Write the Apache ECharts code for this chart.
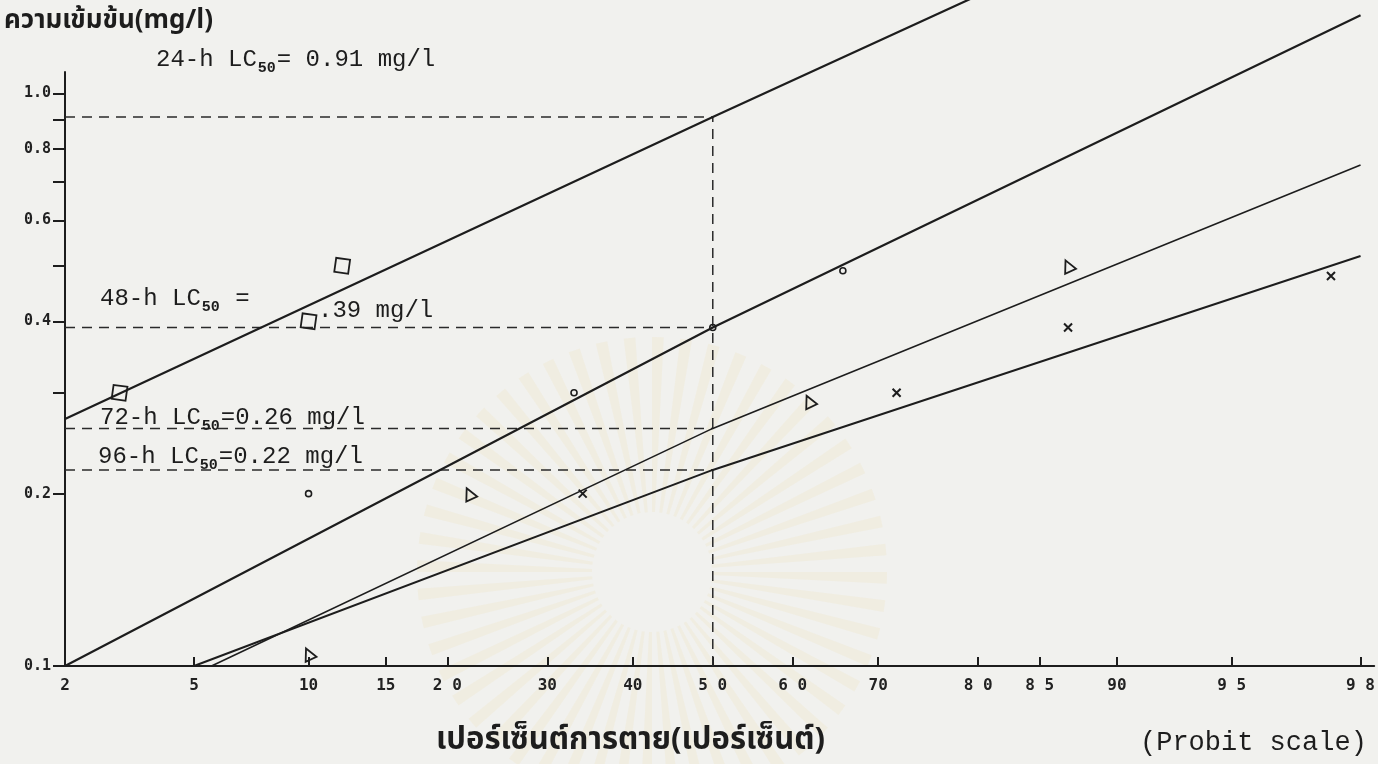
<!DOCTYPE html>
<html>
<head>
<meta charset="utf-8">
<script src="https://cdn.jsdelivr.net/npm/echarts@6/dist/echarts.min.js"></script>
<style>
  html, body { margin: 0; padding: 0; background: #f1f1ee; }
  #chart { width: 1378px; height: 764px; }
</style>
</head>
<body>
<div id="chart"></div>
<script>
// Probit (mortality %) axis ticks and their printed labels
const xTickPct = [2, 5, 10, 15, 20, 30, 40, 50, 60, 70, 80, 85, 90, 95, 98];
const xTickText = ['2', '5', '10', '15', '2 0', '30', '40', '5 0', '6 0', '70', '8 0', '8 5', '90', '9 5', '9 8'];
const xRangePct = [2, 98.2];

// Concentration axis (log scale) ticks and labels
const yTicks = [0.1, 0.2, 0.3, 0.4, 0.5, 0.6, 0.7, 0.8, 0.9, 1.0];
const yLabelValues = [0.1, 0.2, 0.4, 0.6, 0.8, 1.0];
const yRange = [0.1, 1.09];

// LC50 (mg/l) for each exposure time
const hours = ['24-h', '48-h', '72-h', '96-h'];
const lc50 = [0.91, 0.39, 0.26, 0.22];

// Fitted probit lines: [mortality %, concentration mg/l]
const line24 = [[2, 0.27], [50, 0.91], [98, 3.0]];
const line48 = [[2, 0.1], [50, 0.39], [98, 1.37]];
const line72 = [[5.6, 0.1], [50, 0.26], [98, 0.75]];
const line96 = [[5, 0.1], [50, 0.22], [98, 0.52]];

// Observed responses: [mortality %, concentration mg/l]
const obs24 = [[3, 0.30], [10, 0.40], [12, 0.50]];
const obs48 = [[10, 0.20], [33, 0.30], [50, 0.39], [66, 0.49]];
const obs72 = [[10, 0.105], [22, 0.20], [62, 0.29], [87, 0.50]];
const obs96 = [[34, 0.20], [72, 0.30], [87, 0.39], [97.5, 0.48]];

// Inverse standard normal CDF (Acklam), percent -> probit units
function probit(pct) {
  const p = pct / 100;
  const a = [-3.969683028665376e+01, 2.209460984245205e+02, -2.759285104469687e+02, 1.383577518672690e+02, -3.066479806614716e+01, 2.506628277459239e+00];
  const b = [-5.447609879822406e+01, 1.615858368580409e+02, -1.556989798598866e+02, 6.680131188771972e+01, -1.328068155288572e+01];
  const c = [-7.784894002430293e-03, -3.223964580411365e-01, -2.400758277161838e+00, -2.549732539343734e+00, 4.374664141464968e+00, 2.938163982698783e+00];
  const d = [7.784695709041462e-03, 3.224671290700398e-01, 2.445134137142996e+00, 3.754408661907416e+00];
  const pl = 0.02425, ph = 1 - pl;
  let q, r;
  if (p < pl) {
    q = Math.sqrt(-2 * Math.log(p));
    return (((((c[0]*q+c[1])*q+c[2])*q+c[3])*q+c[4])*q+c[5]) / ((((d[0]*q+d[1])*q+d[2])*q+d[3])*q+1);
  }
  if (p > ph) {
    q = Math.sqrt(-2 * Math.log(1 - p));
    return -(((((c[0]*q+c[1])*q+c[2])*q+c[3])*q+c[4])*q+c[5]) / ((((d[0]*q+d[1])*q+d[2])*q+d[3])*q+1);
  }
  q = p - 0.5; r = q * q;
  return (((((a[0]*r+a[1])*r+a[2])*r+a[3])*r+a[4])*r+a[5])*q / (((((b[0]*r+b[1])*r+b[2])*r+b[3])*r+b[4])*r+1);
}
const toProbit = arr => arr.map(([pct, conc]) => [probit(pct), conc]);
const xTickVals = xTickPct.map(probit);

const INK = '#1d1d1d';
const THAI = '"Noto Sans Thai", "Noto Serif Thai", "Noto Looped Thai", Loma, Garuda, "Tlwg Typo", Norasi, "Noto Sans", sans-serif';
const TYPE = '"Liberation Mono", "DejaVu Sans Mono", monospace';
const TICKFONT = '"DejaVu Sans Mono", "Liberation Mono", monospace';

const fitLine = (data, width) => ({
  type: 'line', data: toProbit(data), showSymbol: false, clip: false, silent: true,
  lineStyle: { color: INK, width: width }, z: 3
});
const dashLine = data => ({
  type: 'line', data: toProbit(data), showSymbol: false, clip: false, silent: true,
  lineStyle: { color: '#2a2a2a', width: 1.5, type: [10, 7] }, z: 2
});
const points = (data, symbol, size, rotate, bw) => ({
  type: 'scatter', data: toProbit(data), symbol: symbol, symbolSize: size, symbolRotate: rotate,
  silent: true, z: 4,
  itemStyle: { color: 'rgba(0,0,0,0)', borderColor: INK, borderWidth: bw, opacity: 1 }
});

const series = [
  fitLine(line24, 2.2),
  fitLine(line48, 2.2),
  fitLine(line72, 1.6),
  fitLine(line96, 2.0),
  // LC50 guide lines
  ...lc50.map(v => dashLine([[xRangePct[0], v], [50, v]])),
  dashLine([[50, yRange[0]], [50, lc50[0]]]),
  points(obs24, 'rect', 14, -8, 1.8),
  points(obs48, 'circle', 6, 0, 1.6),
  points(obs72, 'triangle', 12, 25, 1.8),
  points(obs96, 'path://M0 0L10 10M10 0L0 10', 8, 0, 2)
];

// Annotation text: "<h> LC50 = value mg/l" with subscripted 50
const sub = { fontSize: 15, fontWeight: 'bold', fontFamily: TYPE, padding: [13, 1, 0, 1], verticalAlign: 'top', lineHeight: 15 };
const main = { fontSize: 24, fontFamily: TYPE, verticalAlign: 'top', lineHeight: 27 };
function note(left, top, text) {
  return {
    type: 'text', left: left, top: top, silent: true, z: 5,
    style: { text: text, fill: INK, rich: { m: main, s: sub } }
  };
}

// Faint sunburst emblem printed behind the plot
const rays = [];
for (let i = 0; i < 52; i++) {
  const a0 = i * (2 * Math.PI / 52);
  rays.push({
    type: 'sector', silent: true, z: -10,
    shape: { cx: 652, cy: 572, r0: 60, r: 235, startAngle: a0, endAngle: a0 + 0.05 },
    style: { fill: 'rgba(236, 206, 130, 0.11)' }
  });
}

const option = {
  backgroundColor: '#f1f1ee',
  animation: false,
  grid: { left: 65, right: 1, top: 72, bottom: 98 },
  xAxis: {
    type: 'value',
    min: probit(xRangePct[0]),
    max: probit(xRangePct[1]),
    axisLine: { show: true, onZero: false, lineStyle: { color: INK, width: 2 } },
    axisTick: { show: true, inside: true, length: 9, customValues: xTickVals, lineStyle: { color: INK, width: 2 } },
    axisLabel: {
      customValues: xTickVals, margin: 12, color: '#222',
      fontFamily: TICKFONT, fontWeight: 'bold', fontSize: 16,
      formatter: v => {
        let best = 0;
        xTickVals.forEach((t, i) => { if (Math.abs(t - v) < Math.abs(xTickVals[best] - v)) best = i; });
        return xTickText[best];
      }
    },
    splitLine: { show: false }
  },
  yAxis: {
    type: 'log', logBase: 10,
    min: yRange[0], max: yRange[1],
    axisLine: { show: true, onZero: false, lineStyle: { color: INK, width: 2 } },
    axisTick: { show: true, length: 12, customValues: yTicks, lineStyle: { color: INK, width: 2 } },
    axisLabel: {
      customValues: yLabelValues, margin: 14, color: '#222',
      fontFamily: TICKFONT, fontWeight: 'bold', fontSize: 15,
      formatter: v => Number(v).toFixed(1)
    },
    splitLine: { show: false }
  },
  graphic: [
    ...rays,
    { type: 'text', left: 4, top: 10, silent: true,
      style: { text: 'ความเข้มข้น(mg/l)', fill: INK, font: 'bold 26px ' + THAI } },
    { type: 'text', left: 436, top: 727, silent: true,
      style: { text: 'เปอร์เซ็นต์การตาย(เปอร์เซ็นต์)', fill: INK, font: 'bold 31px ' + THAI } },
    { type: 'text', left: 1140, top: 729, silent: true,
      style: { text: '(Probit scale)', fill: INK, font: '27px ' + TYPE } },
    note(156, 48, '{m|' + hours[0] + ' LC}{s|50}{m|= ' + lc50[0].toFixed(2) + ' mg/l}'),
    note(100, 287, '{m|' + hours[1] + ' LC}{s|50}{m| =}'),
    note(318, 299, '{m|' + lc50[1].toFixed(2).slice(1) + ' mg/l}'),
    note(100, 406, '{m|' + hours[2] + ' LC}{s|50}{m|=' + lc50[2].toFixed(2) + ' mg/l}'),
    note(98, 445, '{m|' + hours[3] + ' LC}{s|50}{m|=' + lc50[3].toFixed(2) + ' mg/l}')
  ],
  series: series
};

const chart = echarts.init(document.getElementById('chart'), null, { renderer: 'canvas' });
chart.setOption(option);
</script>
</body>
</html>
